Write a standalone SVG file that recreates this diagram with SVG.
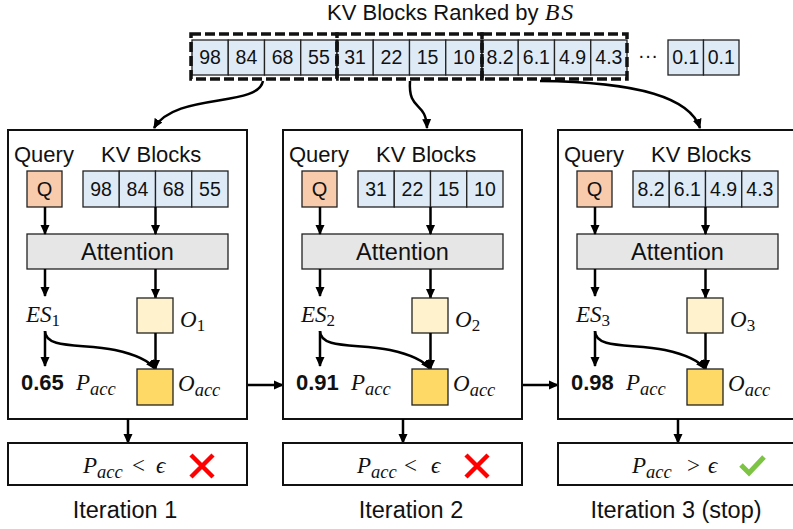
<svg xmlns="http://www.w3.org/2000/svg" width="793" height="529" viewBox="0 0 793 529">
<style>
.s{font-family:"Liberation Sans",Arial,sans-serif;fill:#111}
.t{font-size:22px}
.n{font-size:19.5px;text-anchor:middle}
.m{font-family:"Liberation Serif","DejaVu Serif",serif;font-style:italic;font-size:23px;fill:#111}
.u{font-style:normal;font-size:17px}
.sb{font-size:18.5px}
.up{font-style:normal}
.kv{fill:#deebf7;stroke:#222;stroke-width:1.3}
.q{fill:#f8cbad;stroke:#222;stroke-width:1.3}
.att{fill:#e7e6e6;stroke:#222;stroke-width:1.3}
.o{fill:#fff2cc;stroke:#222;stroke-width:1.3}
.oa{fill:#ffd966;stroke:#222;stroke-width:1.3}
.pan{fill:#fff;stroke:#111;stroke-width:2}
.dash{fill:none;stroke:#111;stroke-width:3.5;stroke-dasharray:10 4}
.b{font-size:22px;font-weight:bold}
.it{font-size:23.5px;text-anchor:middle}
.a{fill:none;stroke:#000;stroke-width:2.5;marker-end:url(#ah)}
</style>
<defs>
<marker id="ah" markerWidth="10" markerHeight="10" refX="9" refY="5" orient="auto" markerUnits="userSpaceOnUse" viewBox="0 0 10 10">
<path d="M0,0.5 L10,5 L0,9.5 Z" fill="#000"/>
</marker>
<g id="xmark"><path d="M0,0 L22,22 M22,0 L0,22" stroke="#f00" stroke-width="4.5" fill="none"/></g>
</defs>

<g id="title">
<text class="s t" x="327" y="20">KV Blocks Ranked by <tspan class="m" style="font-size:24px;letter-spacing:2px">BS</tspan></text>
</g>

<g id="ranked">
<rect class="kv" x="192" y="40" width="36.25" height="35"/>
<rect class="kv" x="228.25" y="40" width="36.25" height="35"/>
<rect class="kv" x="264.5" y="40" width="36.25" height="35"/>
<rect class="kv" x="300.75" y="40" width="36.25" height="35"/>
<rect class="kv" x="337" y="40" width="36.25" height="35"/>
<rect class="kv" x="373.25" y="40" width="36.25" height="35"/>
<rect class="kv" x="409.5" y="40" width="36.25" height="35"/>
<rect class="kv" x="445.75" y="40" width="36.25" height="35"/>
<rect class="kv" x="482" y="40" width="36.25" height="35"/>
<rect class="kv" x="518.25" y="40" width="36.25" height="35"/>
<rect class="kv" x="554.5" y="40" width="36.25" height="35"/>
<rect class="kv" x="590.75" y="40" width="36.25" height="35"/>
<rect class="kv" x="668" y="40" width="35.5" height="35"/>
<rect class="kv" x="703.5" y="40" width="35.5" height="35"/>
<text class="s n" x="210" y="64">98</text>
<text class="s n" x="246.4" y="64">84</text>
<text class="s n" x="282.6" y="64">68</text>
<text class="s n" x="318.9" y="64">55</text>
<text class="s n" x="355.1" y="64">31</text>
<text class="s n" x="391.4" y="64">22</text>
<text class="s n" x="427.6" y="64">15</text>
<text class="s n" x="463.9" y="64">10</text>
<text class="s n" x="500.1" y="64">8.2</text>
<text class="s n" x="536.4" y="64">6.1</text>
<text class="s n" x="572.6" y="64">4.9</text>
<text class="s n" x="608.9" y="64">4.3</text>
<text class="s n" x="685.8" y="64">0.1</text>
<text class="s n" x="721.3" y="64">0.1</text>
<text class="s" x="638" y="62" style="font-size:20px">···</text>
<rect class="dash" x="191" y="34" width="146" height="45"/>
<rect class="dash" x="337" y="34" width="145" height="45"/>
<rect class="dash" x="482" y="34" width="145" height="45"/>
</g>

<g id="connectors">
<path class="a" d="M263,81 C258,108 175,92 154,128"/>
<path class="a" d="M410,81 C408,112 426,100 427,128"/>
<path class="a" d="M540,81 C640,82 690,98 700,128"/>
<path class="a" d="M247,385 L283,385"/>
<path class="a" d="M522,385 L558,385"/>
</g>

<g id="iter1">
<rect class="pan" x="8" y="130" width="239" height="289"/>
<text class="s t" x="14" y="162">Query</text>
<text class="s t" x="101" y="162">KV Blocks</text>
<rect class="q" x="27" y="171" width="35" height="36"/>
<text class="s n" x="44.5" y="196" style="font-size:20px">Q</text>
<rect class="kv" x="83" y="171" width="36.25" height="36"/>
<rect class="kv" x="119.25" y="171" width="36.25" height="36"/>
<rect class="kv" x="155.5" y="171" width="36.25" height="36"/>
<rect class="kv" x="191.75" y="171" width="36.25" height="36"/>
<text class="s n" x="101.1" y="196">98</text>
<text class="s n" x="137.4" y="196">84</text>
<text class="s n" x="173.6" y="196">68</text>
<text class="s n" x="209.9" y="196">55</text>
<rect class="att" x="27" y="234" width="201" height="35"/>
<text class="s" x="127.5" y="260" style="font-size:23.5px;text-anchor:middle">Attention</text>
<path class="a" d="M45,207 L45,234"/>
<path class="a" d="M155.5,207 L155.5,234"/>
<path class="a" d="M45,269 L45,296"/>
<path class="a" d="M155.5,269 L155.5,298"/>
<text class="m" x="26" y="322">ES<tspan class="u" dy="4">1</tspan></text>
<rect class="o" x="137" y="298" width="36" height="35"/>
<text class="m" x="180" y="327">O<tspan class="u" dy="4">1</tspan></text>
<path class="a" d="M155.5,333 L155.5,369"/>
<path class="a" d="M45,331 L45,366"/>
<path class="a" d="M45,331 C45,350 85,343 115,350 C138,355 150,362 155,369"/>
<rect class="oa" x="137" y="369" width="36" height="36"/>
<text class="m" x="178" y="391">O<tspan class="sb" dy="5">acc</tspan></text>
<text class="s b" x="21" y="390">0.65</text>
<text class="m" x="76" y="390">P<tspan class="sb" dy="5">acc</tspan></text>
<path class="a" d="M128,419 L128,443"/>
<rect class="pan" x="8" y="443" width="239" height="42"/>
<text class="m" x="83" y="473">P<tspan class="sb" dy="5">acc</tspan></text>
<text class="m up" x="132" y="473">&lt;</text>
<text class="m" x="156" y="473">ϵ</text>
<use href="#xmark" x="191" y="455"/>
<text class="s it" x="125" y="518">Iteration 1</text>
</g>

<g id="iter2">
<rect class="pan" x="283" y="130" width="239" height="289"/>
<text class="s t" x="289" y="162">Query</text>
<text class="s t" x="376" y="162">KV Blocks</text>
<rect class="q" x="302" y="171" width="35" height="36"/>
<text class="s n" x="319.5" y="196" style="font-size:20px">Q</text>
<rect class="kv" x="358" y="171" width="36.25" height="36"/>
<rect class="kv" x="394.25" y="171" width="36.25" height="36"/>
<rect class="kv" x="430.5" y="171" width="36.25" height="36"/>
<rect class="kv" x="466.75" y="171" width="36.25" height="36"/>
<text class="s n" x="376.1" y="196">31</text>
<text class="s n" x="412.4" y="196">22</text>
<text class="s n" x="448.6" y="196">15</text>
<text class="s n" x="484.9" y="196">10</text>
<rect class="att" x="302" y="234" width="201" height="35"/>
<text class="s" x="402.5" y="260" style="font-size:23.5px;text-anchor:middle">Attention</text>
<path class="a" d="M320,207 L320,234"/>
<path class="a" d="M430.5,207 L430.5,234"/>
<path class="a" d="M320,269 L320,296"/>
<path class="a" d="M430.5,269 L430.5,298"/>
<text class="m" x="301" y="322">ES<tspan class="u" dy="4">2</tspan></text>
<rect class="o" x="412" y="298" width="36" height="35"/>
<text class="m" x="455" y="327">O<tspan class="u" dy="4">2</tspan></text>
<path class="a" d="M430.5,333 L430.5,369"/>
<path class="a" d="M320,331 L320,366"/>
<path class="a" d="M320,331 C320,350 360,343 390,350 C413,355 425,362 430,369"/>
<rect class="oa" x="412" y="369" width="36" height="36"/>
<text class="m" x="453" y="391">O<tspan class="sb" dy="5">acc</tspan></text>
<text class="s b" x="296" y="390">0.91</text>
<text class="m" x="351" y="390">P<tspan class="sb" dy="5">acc</tspan></text>
<path class="a" d="M403,419 L403,443"/>
<rect class="pan" x="283" y="443" width="239" height="42"/>
<text class="m" x="357" y="473">P<tspan class="sb" dy="5">acc</tspan></text>
<text class="m up" x="404" y="473">&lt;</text>
<text class="m" x="431" y="473">ϵ</text>
<use href="#xmark" x="466" y="455"/>
<text class="s it" x="411" y="518">Iteration 2</text>
</g>

<g id="iter3">
<rect class="pan" x="558" y="130" width="239" height="289"/>
<text class="s t" x="564" y="162">Query</text>
<text class="s t" x="651" y="162">KV Blocks</text>
<rect class="q" x="577" y="171" width="35" height="36"/>
<text class="s n" x="594.5" y="196" style="font-size:20px">Q</text>
<rect class="kv" x="633" y="171" width="36.25" height="36"/>
<rect class="kv" x="669.25" y="171" width="36.25" height="36"/>
<rect class="kv" x="705.5" y="171" width="36.25" height="36"/>
<rect class="kv" x="741.75" y="171" width="36.25" height="36"/>
<text class="s n" x="651.1" y="196">8.2</text>
<text class="s n" x="687.4" y="196">6.1</text>
<text class="s n" x="723.6" y="196">4.9</text>
<text class="s n" x="759.9" y="196">4.3</text>
<rect class="att" x="577" y="234" width="201" height="35"/>
<text class="s" x="677.5" y="260" style="font-size:23.5px;text-anchor:middle">Attention</text>
<path class="a" d="M595,207 L595,234"/>
<path class="a" d="M705.5,207 L705.5,234"/>
<path class="a" d="M595,269 L595,296"/>
<path class="a" d="M705.5,269 L705.5,298"/>
<text class="m" x="576" y="322">ES<tspan class="u" dy="4">3</tspan></text>
<rect class="o" x="687" y="298" width="36" height="35"/>
<text class="m" x="730" y="327">O<tspan class="u" dy="4">3</tspan></text>
<path class="a" d="M705.5,333 L705.5,369"/>
<path class="a" d="M595,331 L595,366"/>
<path class="a" d="M595,331 C595,350 635,343 665,350 C688,355 700,362 705,369"/>
<rect class="oa" x="687" y="369" width="36" height="36"/>
<text class="m" x="728" y="391">O<tspan class="sb" dy="5">acc</tspan></text>
<text class="s b" x="571" y="390">0.98</text>
<text class="m" x="626" y="390">P<tspan class="sb" dy="5">acc</tspan></text>
<path class="a" d="M678,419 L678,443"/>
<rect class="pan" x="558" y="443" width="239" height="42"/>
<text class="m" x="632" y="473">P<tspan class="sb" dy="5">acc</tspan></text>
<text class="m up" x="687" y="473">&gt;</text>
<text class="m" x="708" y="473">ϵ</text>
<path d="M741,465 L749,473 L764,457" fill="none" stroke="#7dc344" stroke-width="5"/>
<text class="s it" x="676" y="518">Iteration 3 (stop)</text>
</g>
</svg>
